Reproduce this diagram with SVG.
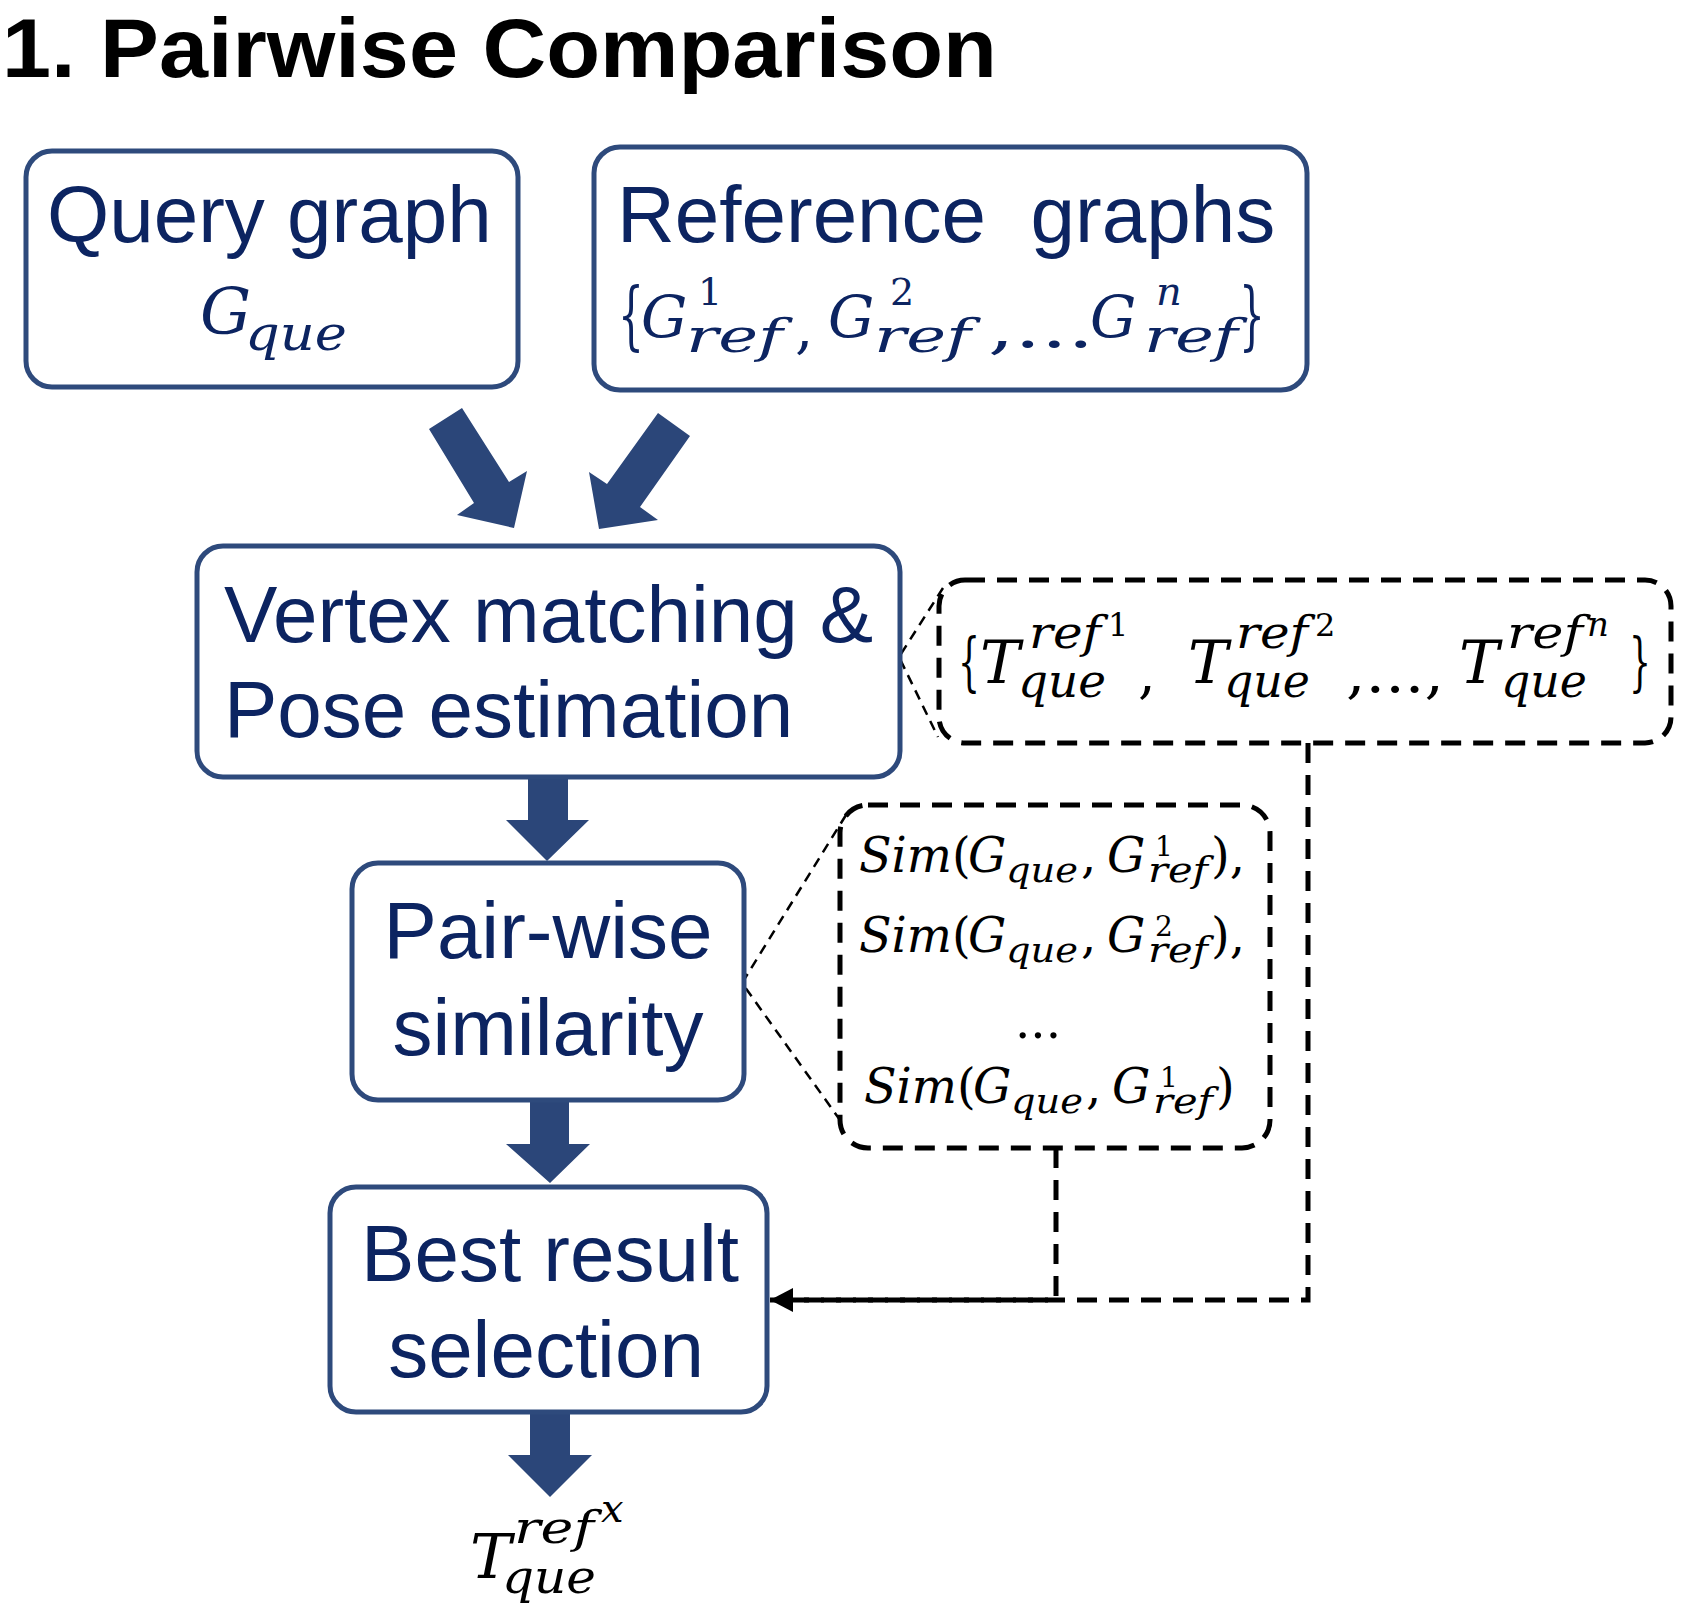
<svg xmlns="http://www.w3.org/2000/svg" width="1689" height="1612" viewBox="0 0 1689 1612">
<style>
.box{fill:#fff;stroke:#2e4a7c;stroke-width:5}
.lbl{font-family:"Liberation Sans",Arial,sans-serif;font-size:80px;fill:#0c2461}
.m{font-family:"DejaVu Serif","Liberation Serif",serif;font-style:italic}
.up{font-family:"DejaVu Serif","Liberation Serif",serif;font-style:normal}
.navy{fill:#0c2461}
.blk{fill:#000}
.dbox{fill:none;stroke:#000;stroke-width:5;stroke-dasharray:20 12}
.thin{fill:none;stroke:#000;stroke-width:2.5;stroke-dasharray:10 7}
.thick{fill:none;stroke:#000;stroke-width:5;stroke-dasharray:20 12}
.barrow{fill:#2b4679}
</style>
<defs>
<marker id="ah" markerWidth="24" markerHeight="24" refX="23" refY="12" orient="auto" markerUnits="userSpaceOnUse">
<path d="M0,0 L23,12 L0,24 Z" fill="#000"/>
</marker>
</defs>
<rect width="1689" height="1612" fill="#fff"/>
<text x="2" y="77" font-family="Liberation Sans,Arial,sans-serif" font-weight="bold" font-size="84" textLength="995" lengthAdjust="spacingAndGlyphs" fill="#000">1. Pairwise Comparison</text>

<g id="connectors">
<polygon class="barrow" points="429,429 462,408 509,482 527,471 514,528 457,515 474,503"/>
<polygon class="barrow" points="658,413 690,436 640,507 658,520 599,529 589,472 607,484"/>
<polygon class="barrow" points="528,777 568,777 568,820 589,820 547,861 506,820 528,820"/>
<polygon class="barrow" points="530,1100 569,1100 569,1144 590,1144 550,1183 506,1144 530,1144"/>
<polygon class="barrow" points="530,1411 570,1411 570,1455 592,1455 550,1497 508,1455 530,1455"/>
<path class="thin" d="M943,588 L899,657 L938,737"/>
<path class="thin" d="M846,815 L742,983 L840,1120"/>
<path class="thick" d="M1056,1148 L1056,1300 L780,1300"/>
<path class="thick" d="M1308,743 L1308,1300 L770,1300" marker-end="url(#ah)"/>
</g>

<g id="query">
<rect class="box" x="26" y="151" width="492" height="236" rx="26"/>
<text class="lbl" x="47" y="242">Query graph</text>
<text class="m navy" x="200" y="334" font-size="64">G</text>
<text class="m navy" x="245" y="350" font-size="48" textLength="102" lengthAdjust="spacingAndGlyphs">que</text>
</g>

<g id="reference">
<rect class="box" x="594" y="147" width="713" height="243" rx="26"/>
<text class="lbl" x="617" y="242" xml:space="preserve">Reference  graphs</text>
<text class="up navy" x="618" y="341" font-size="74" textLength="26" lengthAdjust="spacingAndGlyphs">{</text>
<text class="m navy" x="641" y="337" font-size="58">G</text>
<text class="up navy" x="698" y="305" font-size="38">1</text>
<text class="m navy" x="686" y="352" font-size="46" textLength="97" lengthAdjust="spacingAndGlyphs">ref</text>
<text class="up navy" x="795" y="347" font-size="58">,</text>
<text class="m navy" x="828" y="337" font-size="58">G</text>
<text class="up navy" x="890" y="305" font-size="38">2</text>
<text class="m navy" x="874" y="352" font-size="46" textLength="97" lengthAdjust="spacingAndGlyphs">ref</text>
<text class="up navy" x="988" y="347" font-size="58" textLength="106" lengthAdjust="spacingAndGlyphs">,...</text>
<text class="m navy" x="1090" y="337" font-size="58">G</text>
<text class="m navy" x="1156" y="305" font-size="40">n</text>
<text class="m navy" x="1144" y="352" font-size="46" textLength="94" lengthAdjust="spacingAndGlyphs">ref</text>
<text class="up navy" x="1239" y="341" font-size="74" textLength="26" lengthAdjust="spacingAndGlyphs">}</text>
</g>

<g id="vertex">
<rect class="box" x="197" y="546" width="703" height="231" rx="26"/>
<text class="lbl" x="224" y="642">Vertex matching &amp;</text>
<text class="lbl" x="224" y="737">Pose estimation</text>
</g>

<g id="tset">
<rect class="dbox" x="939" y="580" width="732" height="163" rx="26"/>
<text class="up blk" x="958" y="684" font-size="64" textLength="22" lengthAdjust="spacingAndGlyphs">{</text>
<text class="m blk" x="980" y="683" font-size="60">T</text>
<text class="m blk" x="1029" y="648" font-size="44" textLength="72" lengthAdjust="spacingAndGlyphs">ref</text>
<text class="up blk" x="1108" y="636" font-size="32">1</text>
<text class="m blk" x="1018" y="697" font-size="46" textLength="88" lengthAdjust="spacingAndGlyphs">que</text>
<text class="up blk" x="1138" y="692" font-size="56">,</text>
<text class="m blk" x="1188" y="683" font-size="60">T</text>
<text class="m blk" x="1236" y="648" font-size="44" textLength="72" lengthAdjust="spacingAndGlyphs">ref</text>
<text class="up blk" x="1315" y="636" font-size="32">2</text>
<text class="m blk" x="1224" y="697" font-size="46" textLength="86" lengthAdjust="spacingAndGlyphs">que</text>
<text class="up blk" x="1346" y="692" font-size="56" textLength="98" lengthAdjust="spacingAndGlyphs">,...,</text>
<text class="m blk" x="1459" y="683" font-size="60">T</text>
<text class="m blk" x="1507" y="648" font-size="44" textLength="76" lengthAdjust="spacingAndGlyphs">ref</text>
<text class="m blk" x="1587" y="636" font-size="34">n</text>
<text class="m blk" x="1501" y="697" font-size="46" textLength="86" lengthAdjust="spacingAndGlyphs">que</text>
<text class="up blk" x="1629" y="684" font-size="64" textLength="22" lengthAdjust="spacingAndGlyphs">}</text>
</g>

<g id="pairwise">
<rect class="box" x="352" y="863" width="392" height="237" rx="26"/>
<text class="lbl" x="548" y="958" text-anchor="middle">Pair-wise</text>
<text class="lbl" x="548" y="1055" text-anchor="middle">similarity</text>
</g>

<g id="simset">
<rect class="dbox" x="840" y="805" width="430" height="343" rx="28"/>
<text class="m blk" x="859" y="872" font-size="48" textLength="93" lengthAdjust="spacingAndGlyphs">Sim</text>
<text class="up blk" x="952" y="872" font-size="48">(</text>
<text class="m blk" x="968" y="872" font-size="48">G</text>
<text class="m blk" x="1006" y="882" font-size="36" textLength="72" lengthAdjust="spacingAndGlyphs">que</text>
<text class="up blk" x="1081" y="872" font-size="48">,</text>
<text class="m blk" x="1107" y="872" font-size="48">G</text>
<text class="up blk" x="1155" y="856" font-size="28">1</text>
<text class="m blk" x="1148" y="882" font-size="36" textLength="60" lengthAdjust="spacingAndGlyphs">ref</text>
<text class="up blk" x="1211" y="872" font-size="48">),</text>

<text class="m blk" x="859" y="952" font-size="48" textLength="93" lengthAdjust="spacingAndGlyphs">Sim</text>
<text class="up blk" x="952" y="952" font-size="48">(</text>
<text class="m blk" x="968" y="952" font-size="48">G</text>
<text class="m blk" x="1006" y="962" font-size="36" textLength="72" lengthAdjust="spacingAndGlyphs">que</text>
<text class="up blk" x="1081" y="952" font-size="48">,</text>
<text class="m blk" x="1107" y="952" font-size="48">G</text>
<text class="up blk" x="1155" y="936" font-size="28">2</text>
<text class="m blk" x="1148" y="962" font-size="36" textLength="60" lengthAdjust="spacingAndGlyphs">ref</text>
<text class="up blk" x="1211" y="952" font-size="48">),</text>

<text class="up blk" x="1015" y="1038" font-size="48" textLength="46" lengthAdjust="spacingAndGlyphs">...</text>

<text class="m blk" x="864" y="1103" font-size="48" textLength="93" lengthAdjust="spacingAndGlyphs">Sim</text>
<text class="up blk" x="957" y="1103" font-size="48">(</text>
<text class="m blk" x="973" y="1103" font-size="48">G</text>
<text class="m blk" x="1011" y="1113" font-size="36" textLength="72" lengthAdjust="spacingAndGlyphs">que</text>
<text class="up blk" x="1086" y="1103" font-size="48">,</text>
<text class="m blk" x="1112" y="1103" font-size="48">G</text>
<text class="up blk" x="1160" y="1087" font-size="28">1</text>
<text class="m blk" x="1153" y="1113" font-size="36" textLength="60" lengthAdjust="spacingAndGlyphs">ref</text>
<text class="up blk" x="1216" y="1103" font-size="48">)</text>
</g>

<g id="best">
<rect class="box" x="330" y="1187" width="437" height="225" rx="26"/>
<text class="lbl" x="550" y="1281" text-anchor="middle">Best result</text>
<text class="lbl" x="546" y="1377" text-anchor="middle">selection</text>
</g>

<g id="output">
<text class="m blk" x="470" y="1578" font-size="62">T</text>
<text class="m blk" x="514" y="1543" font-size="44" textLength="80" lengthAdjust="spacingAndGlyphs">ref</text>
<text class="m blk" x="601" y="1522" font-size="40">x</text>
<text class="m blk" x="502" y="1593" font-size="46" textLength="94" lengthAdjust="spacingAndGlyphs">que</text>
</g>
</svg>
